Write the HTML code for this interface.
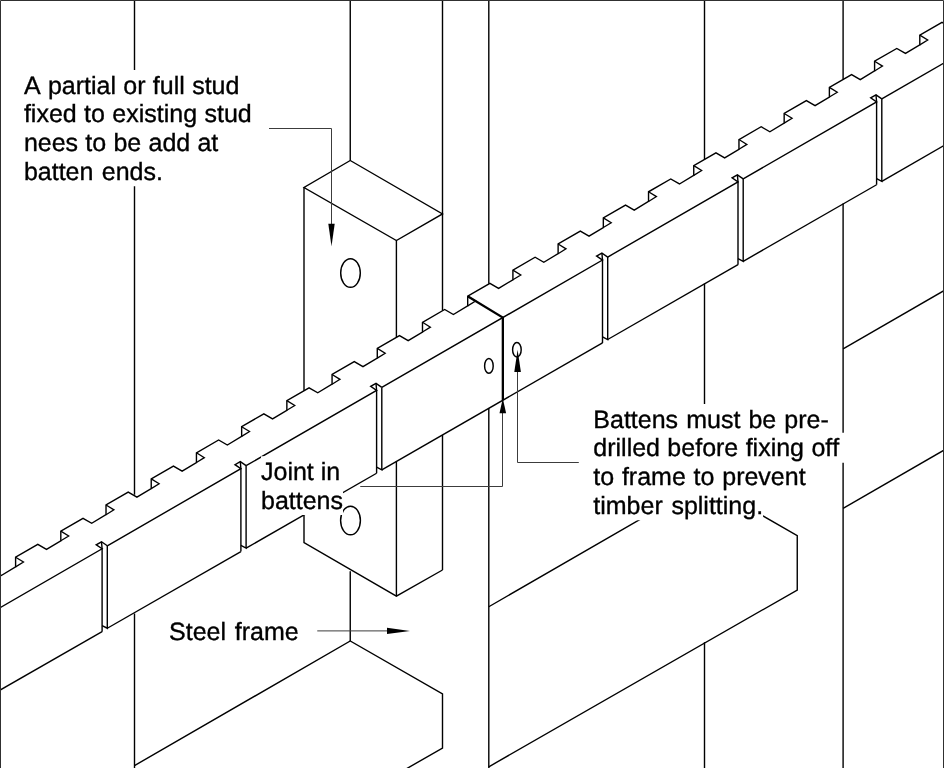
<!DOCTYPE html>
<html><head><meta charset="utf-8"><title>Batten joint detail</title>
<style>
html,body{margin:0;padding:0;background:#fff;}
body{width:944px;height:768px;overflow:hidden;position:relative;}
svg{position:absolute;left:0;top:0;display:block;will-change:transform;}
text{font-family:"Liberation Sans",Arial,Helvetica,sans-serif;font-size:25px;fill:#000;stroke:#000;stroke-width:0.35px;font-kerning:none;text-rendering:geometricPrecision;}
</style></head><body>
<svg width="944" height="768" viewBox="0 0 944 768">
<rect x="0" y="0" width="944" height="768" fill="#fff"/>
<g stroke-linejoin="miter" stroke-linecap="butt">
<path d="M134.50 0.00 L134.50 494.80" fill="none" stroke="#000" stroke-width="1.4" />
<path d="M134.50 613.50 L134.50 768.00" fill="none" stroke="#000" stroke-width="1.4" />
<path d="M350.25 0.00 L350.25 160.50" fill="none" stroke="#000" stroke-width="1.4" />
<path d="M350.25 571.30 L350.25 641.00" fill="none" stroke="#000" stroke-width="1.4" />
<path d="M442.50 0.00 L442.50 310.60" fill="none" stroke="#000" stroke-width="1.4" />
<path d="M442.50 435.00 L442.50 570.00" fill="none" stroke="#000" stroke-width="1.4" />
<path d="M488.80 0.00 L488.80 283.80" fill="none" stroke="#000" stroke-width="1.4" />
<path d="M488.80 408.30 L488.80 768.00" fill="none" stroke="#000" stroke-width="1.4" />
<path d="M704.50 0.00 L704.50 159.60" fill="none" stroke="#000" stroke-width="1.4" />
<path d="M704.50 283.60 L704.50 482.00" fill="none" stroke="#000" stroke-width="1.4" />
<path d="M704.50 642.20 L704.50 768.00" fill="none" stroke="#000" stroke-width="1.4" />
<path d="M843.10 0.00 L843.10 79.30" fill="none" stroke="#000" stroke-width="1.4" />
<path d="M843.10 203.40 L843.10 768.00" fill="none" stroke="#000" stroke-width="1.4" />
<path d="M350.25 160.50 L442.50 213.90 L396.40 240.50 L304.00 187.50 L350.25 160.50" fill="none" stroke="#000" stroke-width="1.4" />
<path d="M304.00 187.50 L304.00 390.80" fill="none" stroke="#000" stroke-width="1.4" />
<path d="M304.00 515.20 L304.00 542.50 L396.40 596.20 L442.50 570.00" fill="none" stroke="#000" stroke-width="1.4" />
<path d="M396.40 240.50 L396.40 337.50" fill="none" stroke="#000" stroke-width="1.4" />
<path d="M396.40 461.40 L396.40 596.20" fill="none" stroke="#000" stroke-width="1.4" />
<ellipse cx="350.5" cy="273" rx="9.8" ry="14.3" fill="none" stroke="#000" stroke-width="1.45"/>
<ellipse cx="350.5" cy="520.5" rx="9.9" ry="14.3" fill="none" stroke="#000" stroke-width="1.45"/>
<path d="M134.50 765.60 L350.25 641.00 L442.50 694.00 L442.50 748.00 L405.00 769.60" fill="none" stroke="#000" stroke-width="1.4" />
<path d="M488.80 606.75 L704.50 482.20 L797.25 535.75 L797.25 590.00 L488.80 766.80" fill="none" stroke="#000" stroke-width="1.4" />
<path d="M843.10 348.90 L946.00 289.50" fill="none" stroke="#000" stroke-width="1.4" />
<path d="M843.10 508.40 L946.00 449.00" fill="none" stroke="#000" stroke-width="1.4" />
<path d="M-29.61 583.30 L-21.71 588.15 L-29.61 593.00" fill="none" stroke="#000" stroke-width="1.3" />
<path d="M15.60 557.20 L23.50 562.05 L15.60 566.90" fill="none" stroke="#000" stroke-width="1.3" />
<path d="M60.81 531.10 L68.71 535.95 L60.81 540.80" fill="none" stroke="#000" stroke-width="1.3" />
<path d="M106.02 505.00 L113.92 509.85 L106.02 514.70" fill="none" stroke="#000" stroke-width="1.3" />
<path d="M151.23 478.89 L159.13 483.74 L151.23 488.59" fill="none" stroke="#000" stroke-width="1.3" />
<path d="M196.44 452.79 L204.34 457.64 L196.44 462.49" fill="none" stroke="#000" stroke-width="1.3" />
<path d="M241.65 426.69 L249.55 431.54 L241.65 436.39" fill="none" stroke="#000" stroke-width="1.3" />
<path d="M286.86 400.59 L294.76 405.44 L286.86 410.29" fill="none" stroke="#000" stroke-width="1.3" />
<path d="M332.07 374.49 L339.97 379.34 L332.07 384.19" fill="none" stroke="#000" stroke-width="1.3" />
<path d="M377.28 348.38 L385.18 353.23 L377.28 358.08" fill="none" stroke="#000" stroke-width="1.3" />
<path d="M422.49 322.28 L430.39 327.13 L422.49 331.98" fill="none" stroke="#000" stroke-width="1.3" />
<path d="M467.70 296.18 L475.60 301.03 L467.70 305.88" fill="none" stroke="#000" stroke-width="1.3" />
<path d="M512.91 270.08 L520.81 274.93 L512.91 279.78" fill="none" stroke="#000" stroke-width="1.3" />
<path d="M558.12 243.98 L566.02 248.83 L558.12 253.68" fill="none" stroke="#000" stroke-width="1.3" />
<path d="M603.33 217.87 L611.23 222.72 L603.33 227.57" fill="none" stroke="#000" stroke-width="1.3" />
<path d="M648.54 191.77 L656.44 196.62 L648.54 201.47" fill="none" stroke="#000" stroke-width="1.3" />
<path d="M693.75 165.67 L701.65 170.52 L693.75 175.37" fill="none" stroke="#000" stroke-width="1.3" />
<path d="M738.96 139.57 L746.86 144.42 L738.96 149.27" fill="none" stroke="#000" stroke-width="1.3" />
<path d="M784.17 113.47 L792.07 118.32 L784.17 123.17" fill="none" stroke="#000" stroke-width="1.3" />
<path d="M829.38 87.36 L837.28 92.21 L829.38 97.06" fill="none" stroke="#000" stroke-width="1.3" />
<path d="M874.59 61.26 L882.49 66.11 L874.59 70.96" fill="none" stroke="#000" stroke-width="1.3" />
<path d="M919.80 35.16 L927.70 40.01 L919.80 44.86" fill="none" stroke="#000" stroke-width="1.3" />
<path d="M965.01 9.06 L972.91 13.91 L965.01 18.76" fill="none" stroke="#000" stroke-width="1.3" />
<path d="M-29.61 593.00 L-29.61 583.30 L-7.41 570.48 L1.29 575.51 L15.60 566.90 L15.60 557.20 L37.80 544.38 L46.50 549.41 L60.81 540.80 L60.81 531.10 L83.01 518.28 L91.71 523.30 L106.02 514.70 L106.02 505.00 L128.22 492.18 L136.92 497.20 L151.23 488.59 L151.23 478.89 L173.43 466.08 L182.13 471.10 L196.44 462.49 L196.44 452.79 L218.64 439.97 L227.34 445.00 L241.65 436.39 L241.65 426.69 L263.85 413.87 L272.55 418.90 L286.86 410.29 L286.86 400.59 L309.06 387.77 L317.76 392.79 L332.07 384.19 L332.07 374.49 L354.27 361.67 L362.97 366.69 L377.28 358.08 L377.28 348.38 L399.48 335.57 L408.18 340.59 L422.49 331.98 L422.49 322.28 L444.69 309.46 L453.39 314.49 L467.70 305.88 L467.70 296.18 L489.90 283.36 L498.60 288.39 L512.91 279.78 L512.91 270.08 L535.11 257.26 L543.81 262.28 L558.12 253.68 L558.12 243.98 L580.32 231.16 L589.02 236.18 L603.33 227.57 L603.33 217.87 L625.53 205.06 L634.23 210.08 L648.54 201.47 L648.54 191.77 L670.74 178.95 L679.44 183.98 L693.75 175.37 L693.75 165.67 L715.95 152.85 L724.65 157.88 L738.96 149.27 L738.96 139.57 L761.16 126.75 L769.86 131.77 L784.17 123.17 L784.17 113.47 L806.37 100.65 L815.07 105.67 L829.38 97.06 L829.38 87.36 L851.58 74.55 L860.28 79.57 L874.59 70.96 L874.59 61.26 L896.79 48.44 L905.49 53.47 L919.80 44.86 L919.80 35.16 L942.00 22.34 L950.70 27.37 L965.01 18.76 L965.01 9.06 L987.21 -3.76 L995.91 1.26" fill="none" stroke="#000" stroke-width="1.4" />
<path d="M-2.00 608.85 L102.10 548.79 L96.20 544.79 L101.50 541.79 L107.30 545.79" fill="none" stroke="#000" stroke-width="1.4" />
<path d="M101.50 541.79 L102.10 548.79 L102.10 631.64" fill="none" stroke="#000" stroke-width="1.4" />
<path d="M107.30 545.79 L107.30 628.24 L102.10 625.54" fill="none" stroke="#000" stroke-width="1.4" />
<path d="M-2.00 691.30 L102.10 631.64" fill="none" stroke="#000" stroke-width="1.4" />
<path d="M107.30 545.79 L240.90 468.70 L235.00 464.70 L240.30 461.70 L246.10 465.70" fill="none" stroke="#000" stroke-width="1.4" />
<path d="M240.30 461.70 L240.90 468.70 L240.90 551.55" fill="none" stroke="#000" stroke-width="1.4" />
<path d="M246.10 465.70 L246.10 548.15 L240.90 545.45" fill="none" stroke="#000" stroke-width="1.4" />
<path d="M107.30 628.24 L240.90 551.55" fill="none" stroke="#000" stroke-width="1.4" />
<path d="M246.10 465.70 L376.60 390.40 L370.70 386.40 L376.00 383.40 L381.80 387.40" fill="none" stroke="#000" stroke-width="1.4" />
<path d="M376.00 383.40 L376.60 390.40 L376.60 473.25" fill="none" stroke="#000" stroke-width="1.4" />
<path d="M381.80 387.40 L381.80 469.85 L376.60 467.15" fill="none" stroke="#000" stroke-width="1.4" />
<path d="M246.10 548.15 L376.60 473.25" fill="none" stroke="#000" stroke-width="1.4" />
<path d="M381.80 387.40 L602.50 260.06 L596.60 256.06 L601.90 253.06 L607.70 257.06" fill="none" stroke="#000" stroke-width="1.4" />
<path d="M601.90 253.06 L602.50 260.06 L602.50 342.91" fill="none" stroke="#000" stroke-width="1.4" />
<path d="M607.70 257.06 L607.70 339.51 L602.50 336.81" fill="none" stroke="#000" stroke-width="1.4" />
<path d="M381.80 469.85 L602.50 342.91" fill="none" stroke="#000" stroke-width="1.4" />
<path d="M607.70 257.06 L738.00 181.87 L732.10 177.87 L737.40 174.87 L743.20 178.87" fill="none" stroke="#000" stroke-width="1.4" />
<path d="M737.40 174.87 L738.00 181.87 L738.00 264.72" fill="none" stroke="#000" stroke-width="1.4" />
<path d="M743.20 178.87 L743.20 261.32 L738.00 258.62" fill="none" stroke="#000" stroke-width="1.4" />
<path d="M607.70 339.51 L738.00 264.72" fill="none" stroke="#000" stroke-width="1.4" />
<path d="M743.20 178.87 L876.60 101.90 L870.70 97.90 L876.00 94.90 L881.80 98.90" fill="none" stroke="#000" stroke-width="1.4" />
<path d="M876.00 94.90 L876.60 101.90 L876.60 184.75" fill="none" stroke="#000" stroke-width="1.4" />
<path d="M881.80 98.90 L881.80 181.35 L876.60 178.65" fill="none" stroke="#000" stroke-width="1.4" />
<path d="M743.20 261.32 L876.60 184.75" fill="none" stroke="#000" stroke-width="1.4" />
<path d="M881.80 98.90 L946.00 61.86" fill="none" stroke="#000" stroke-width="1.4" />
<path d="M881.80 181.35 L946.00 144.31" fill="none" stroke="#000" stroke-width="1.4" />
<path d="M468.10 296.60 L502.85 317.56 L502.85 400.01" fill="none" stroke="#000" stroke-width="2.3" />
<ellipse cx="488.9" cy="365.9" rx="4.3" ry="7.4" fill="none" stroke="#000" stroke-width="1.45"/>
<ellipse cx="516.9" cy="349.7" rx="4.3" ry="7.2" fill="none" stroke="#000" stroke-width="1.45"/>
</g>
<g>
<rect x="23.9" y="70.00" width="222.4" height="30" fill="#fff"/>
<rect x="23.9" y="98.75" width="234.8" height="30" fill="#fff"/>
<rect x="23.9" y="127.50" width="201.4" height="30" fill="#fff"/>
<rect x="23.9" y="156.25" width="139.0" height="30" fill="#fff"/>
<rect x="261.0" y="456.25" width="86.2" height="30" fill="#fff"/>
<rect x="261.0" y="485.00" width="82.0" height="30" fill="#fff"/>
<rect x="593.3" y="404.00" width="235.5" height="30" fill="#fff"/>
<rect x="593.3" y="432.75" width="252.8" height="30" fill="#fff"/>
<rect x="593.3" y="461.50" width="219.3" height="30" fill="#fff"/>
<rect x="593.3" y="490.25" width="169.8" height="30" fill="#fff"/>
<rect x="169.1" y="615.75" width="129.5" height="30" fill="#fff"/>
<text x="23.9" y="93.5" style="word-spacing:0.375px">A partial or full stud</text>
<text x="23.9" y="122.25" style="word-spacing:0.433px">fixed to existing stud</text>
<text x="23.9" y="151.0" style="word-spacing:0.300px">nees to be add at</text>
<text x="23.9" y="179.75" style="word-spacing:1.400px">batten ends.</text>
<text x="261.0" y="479.9">Joint in</text>
<text x="261.0" y="509.1">battens</text>
<text x="593.3" y="427.6" style="word-spacing:1.133px">Battens must be pre-</text>
<text x="593.3" y="456.45" style="word-spacing:0.433px">drilled before fixing off</text>
<text x="593.3" y="484.95" style="word-spacing:0.833px">to frame to prevent</text>
<text x="593.3" y="514.3" style="word-spacing:1.700px">timber splitting.</text>
<text x="169.1" y="639.7" style="word-spacing:1.700px">Steel frame</text>
</g>
<g>
<path d="M269.00 128.50 L331.50 128.50 L331.50 224.00" fill="none" stroke="#3c3c3c" stroke-width="1.0" />
<polygon points="328.3,223.7 334.7,223.7 331.5,246.3" fill="#000"/>
<path d="M360.25 486.50 L502.50 486.50 L502.50 412.80" fill="none" stroke="#3c3c3c" stroke-width="1.0" />
<polygon points="499.5,413.2 506.1,413.2 502.8,398.3" fill="#000"/>
<path d="M578.80 462.50 L517.50 462.50 L517.50 371.50" fill="none" stroke="#3c3c3c" stroke-width="1.0" />
<polygon points="514.3,372.1 520.9,372.1 517.6,349.8" fill="#000"/>
<path d="M317.25 630.90 L387.25 630.90" fill="none" stroke="#3c3c3c" stroke-width="1.0" />
<polygon points="387.0,627.7 387.0,634.1 410.0,630.9" fill="#000"/>
</g>
<path d="M0.5 768 L0.5 0.5 L943.5 0.5 L943.5 768" fill="none" stroke="#303030" stroke-width="1"/>
</svg>
</body></html>
